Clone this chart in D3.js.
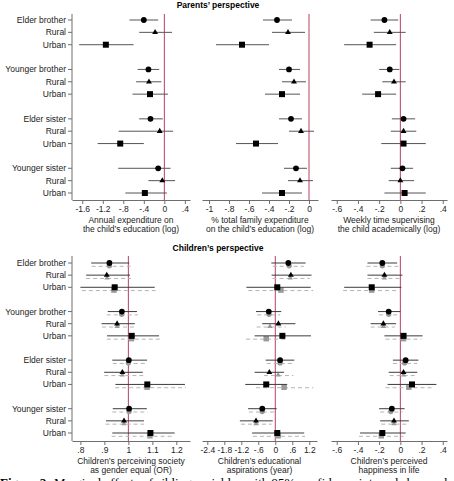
<!DOCTYPE html>
<html>
<head>
<meta charset="utf-8">
<script src="https://cdn.jsdelivr.net/npm/d3@7"></script>
<style>
  body { margin: 0; background: #fff; }
  svg { display: block; font-family: "Liberation Sans", Arial, sans-serif; }
</style>
</head>
<body>
<svg id="chart" width="454" height="481"></svg>
<script>
// rows (same order in every panel)
const rowLabels = ["Elder brother", "Rural", "Urban", "Younger brother", "Rural", "Urban",
  "Elder sister", "Rural", "Urban", "Younger sister", "Rural", "Urban"];
const rowSlots = [0, 1, 2, 4, 5, 6, 8, 9, 10, 12, 13, 14];
const rowShapes = ["circle", "triangle", "square", "circle", "triangle", "square",
  "circle", "triangle", "square", "circle", "triangle", "square"];

// Parents' perspective
const eduExpEst = [-0.40, -0.18, -1.14, -0.31, -0.30, -0.28, -0.27, -0.09, -0.86, -0.12, -0.04, -0.38];
const eduExpLo = [-0.68, -0.49, -1.66, -0.52, -0.55, -0.62, -0.49, -0.89, -1.30, -0.90, -0.31, -0.76];
const eduExpHi = [-0.12, 0.15, -0.60, -0.10, -0.06, 0.07, -0.03, 0.17, -0.40, 0.12, 0.21, 0.05];

const shareEst = [-0.32, -0.21, -0.67, -0.20, -0.15, -0.27, -0.18, -0.08, -0.53, -0.13, -0.09, -0.27];
const shareLo = [-0.46, -0.37, -0.93, -0.30, -0.27, -0.44, -0.30, -0.20, -0.73, -0.25, -0.21, -0.47];
const shareHi = [-0.17, -0.04, -0.40, -0.09, -0.03, -0.09, -0.07, 0.05, -0.31, -0.02, 0.04, -0.07];

const superEst = [-0.15, -0.10, -0.29, -0.10, -0.06, -0.21, 0.03, 0.03, 0.03, 0.02, 0.00, 0.04];
const superLo = [-0.28, -0.25, -0.53, -0.20, -0.17, -0.36, -0.08, -0.09, -0.18, -0.09, -0.11, -0.15];
const superHi = [-0.02, 0.05, -0.04, -0.01, 0.05, -0.04, 0.14, 0.15, 0.24, 0.12, 0.13, 0.24];

// Children's perspective (black = first model, grey = second model)
const equalEst = [0.921, 0.910, 0.943, 0.973, 0.953, 1.014, 1.002, 0.975, 1.079, 1.003, 0.982, 1.092];
const equalLo = [0.845, 0.824, 0.800, 0.914, 0.888, 0.911, 0.933, 0.899, 0.946, 0.935, 0.907, 0.933];
const equalHi = [1.004, 1.007, 1.110, 1.036, 1.027, 1.128, 1.078, 1.060, 1.236, 1.077, 1.065, 1.193];
const equalEst2 = [0.921, 0.911, 0.940, 0.972, 0.953, 1.013, 1.000, 0.975, 1.078, 1.003, 0.982, 1.090];
const equalLo2 = [0.847, 0.824, 0.806, 0.910, 0.890, 0.910, 0.935, 0.900, 0.945, 0.933, 0.905, 0.930];
const equalHi2 = [1.011, 1.011, 1.114, 1.040, 1.030, 1.132, 1.075, 1.062, 1.240, 1.080, 1.065, 1.190];

const aspEst = [0.46, 0.55, 0.07, -0.23, 0.11, 0.25, 0.17, -0.21, -0.32, -0.46, -0.68, 0.07];
const aspLo = [-0.14, -0.13, -1.02, -0.68, -0.46, -0.73, -0.34, -0.73, -1.06, -0.96, -1.25, -0.82];
const aspHi = [1.07, 1.28, 1.25, 0.21, 0.71, 1.26, 0.67, 0.31, 0.42, 0.05, -0.09, 1.02];
const aspEst2 = [0.49, 0.53, 0.20, -0.22, -0.19, -0.32, 0.17, 0.10, 0.31, -0.46, -0.68, 0.10];
const aspLo2 = [-0.09, -0.10, -0.95, -0.64, -0.66, -1.03, -0.30, -0.40, -0.68, -0.93, -1.21, -0.79];
const aspHi2 = [1.01, 1.22, 1.34, 0.17, 0.37, 0.42, 0.66, 0.64, 1.34, 0.01, -0.13, 1.05];

const happyEst = [-0.17, -0.15, -0.27, -0.11, -0.16, 0.03, 0.05, 0.03, 0.11, -0.08, -0.06, -0.17];
const happyLo = [-0.31, -0.31, -0.53, -0.21, -0.28, -0.15, -0.07, -0.11, -0.12, -0.20, -0.19, -0.38];
const happyHi = [-0.03, 0.02, 0.01, 0.00, -0.04, 0.21, 0.17, 0.16, 0.34, 0.04, 0.08, 0.05];
const happyEst2 = [-0.17, -0.15, -0.27, -0.11, -0.16, 0.03, 0.04, 0.03, 0.08, -0.09, -0.06, -0.18];
const happyLo2 = [-0.32, -0.31, -0.54, -0.20, -0.28, -0.14, -0.07, -0.10, -0.14, -0.19, -0.18, -0.39];
const happyHi2 = [-0.01, 0.00, -0.02, -0.01, -0.05, 0.20, 0.16, 0.15, 0.30, 0.02, 0.07, 0.03];

// axis ticks
const eduExpTicks = [-1.6, -1.2, -0.8, -0.4, 0, 0.4];
const shareTicks = [-1, -0.8, -0.6, -0.4, -0.2, 0];
const superTicks = [-0.6, -0.4, -0.2, 0, 0.2, 0.4];
const equalTicks = [0.8, 0.9, 1, 1.1, 1.2];
const aspTicks = [-2.4, -1.8, -1.2, -0.6, 0, 0.6, 1.2];
const happyTicks = [-0.6, -0.4, -0.2, 0, 0.2, 0.4];

const svg = d3.select("#chart");
const fs = 8.5;
const red = "#b8405f";
const axisCol = "#6e6e6e";

function fmt(v) {
  const s = String(+v.toFixed(2));
  return s.replace(/^(-?)0\./, "$1.");
}

function symbolFor(shape, small) {
  if (shape === "circle") return d3.symbol(d3.symbolCircle, small ? 22 : 26);
  if (shape === "square") return d3.symbol(d3.symbolSquare, small ? 30 : 36);
  return d3.symbol(d3.symbolTriangle, small ? 12 : 15);
}

function drawSection(cfg) {
  const y = d3.scaleLinear().domain([0, 14]).range([cfg.rowTop, cfg.rowBottom]);

  svg.append("text")
    .attr("x", 218).attr("y", cfg.titleY)
    .attr("text-anchor", "middle")
    .style("font-size", fs + "px").style("font-weight", "bold")
    .text(cfg.title);

  // y axis on the first panel
  const yAxisX = cfg.panels[0].range[0];
  svg.append("line")
    .attr("x1", yAxisX).attr("x2", yAxisX)
    .attr("y1", cfg.axisTop).attr("y2", cfg.axisY)
    .attr("stroke", axisCol).attr("stroke-width", 1);
  rowLabels.forEach((lab, i) => {
    const yy = y(rowSlots[i]);
    svg.append("line")
      .attr("x1", yAxisX - 4).attr("x2", yAxisX)
      .attr("y1", yy).attr("y2", yy)
      .attr("stroke", axisCol);
    svg.append("text")
      .attr("x", yAxisX - 6).attr("y", yy)
      .attr("dy", "0.35em")
      .attr("text-anchor", "end")
      .style("font-size", fs + "px")
      .attr("fill", "#222")
      .text(lab);
  });

  cfg.panels.forEach(p => {
    const x = d3.scaleLinear().domain(p.domain).range(p.range);

    const gx = svg.append("g")
      .attr("transform", "translate(0," + cfg.axisY + ")")
      .call(d3.axisBottom(x).tickValues(p.ticks).tickFormat(fmt).tickSize(4).tickSizeOuter(0).tickPadding(2));
    gx.select(".domain").attr("stroke", axisCol);
    gx.selectAll(".tick line").attr("stroke", axisCol);
    gx.selectAll(".tick text")
      .attr("fill", "#222")
      .style("font-size", fs + "px")
      .style("font-family", "'Liberation Sans', Arial, sans-serif");

    p.title.forEach((t, k) => {
      svg.append("text")
        .attr("x", (p.range[0] + p.range[1]) / 2)
        .attr("y", cfg.axisY + 23 + k * 8.5)
        .attr("text-anchor", "middle")
        .style("font-size", fs + "px")
        .attr("fill", "#222")
        .text(t);
    });

    // reference line
    svg.append("line")
      .attr("x1", x(p.ref)).attr("x2", x(p.ref))
      .attr("y1", cfg.axisTop).attr("y2", cfg.axisY)
      .attr("stroke", red).attr("stroke-width", 1);

    // second (grey, dashed) model
    if (p.est2) {
      rowSlots.forEach((s, i) => {
        const yy = y(s) + 3.3;
        svg.append("line")
          .attr("x1", x(p.lo2[i])).attr("x2", x(p.hi2[i]))
          .attr("y1", yy).attr("y2", yy)
          .attr("stroke", "#b4b4b4").attr("stroke-width", 1)
          .attr("stroke-dasharray", "4,3");
        svg.append("path")
          .attr("d", symbolFor(rowShapes[i], true)())
          .attr("transform", "translate(" + x(p.est2[i]) + "," + (y(s) + 2.8) + ")")
          .attr("fill", "#9a9a9a");
      });
    }

    // main model
    rowSlots.forEach((s, i) => {
      const yy = y(s);
      svg.append("line")
        .attr("x1", x(p.lo[i])).attr("x2", x(p.hi[i]))
        .attr("y1", yy).attr("y2", yy)
        .attr("stroke", p.est2 ? "#3c3c3c" : "#555").attr("stroke-width", 1);
      svg.append("path")
        .attr("d", symbolFor(rowShapes[i], false)())
        .attr("transform", "translate(" + x(p.est[i]) + "," + yy + ")")
        .attr("fill", "#000");
    });
  });
}

drawSection({
  title: "Parents\u2019 perspective",
  titleY: 8,
  rowTop: 20, rowBottom: 193,
  axisTop: 14, axisY: 200,
  panels: [
    { domain: [-1.8, 0.5], range: [72, 190], ticks: eduExpTicks, ref: 0,
      est: eduExpEst, lo: eduExpLo, hi: eduExpHi,
      title: ["Annual expenditure on", "the child\u2019s education (log)"] },
    { domain: [-1.07, 0.09], range: [202, 318], ticks: shareTicks, ref: 0,
      est: shareEst, lo: shareLo, hi: shareHi,
      title: ["% total family expenditure", "on the child\u2019s education (log)"] },
    { domain: [-0.654, 0.44], range: [331, 447], ticks: superTicks, ref: 0,
      est: superEst, lo: superLo, hi: superHi,
      title: ["Weekly time supervising", "the child academically (log)"] }
  ]
});

drawSection({
  title: "Children\u2019s perspective",
  titleY: 251,
  rowTop: 263, rowBottom: 433,
  axisTop: 256, axisY: 441,
  panels: [
    { domain: [0.765, 1.257], range: [72, 190], ticks: equalTicks, ref: 1,
      est: equalEst, lo: equalLo, hi: equalHi, est2: equalEst2, lo2: equalLo2, hi2: equalHi2,
      title: ["Children\u2019s perceiving society", "as gender equal (OR)"] },
    { domain: [-2.587, 1.472], range: [202, 317], ticks: aspTicks, ref: 0,
      est: aspEst, lo: aspLo, hi: aspHi, est2: aspEst2, lo2: aspLo2, hi2: aspHi2,
      title: ["Children\u2019s educational", "aspirations (year)"] },
    { domain: [-0.654, 0.44], range: [331, 447], ticks: happyTicks, ref: 0,
      est: happyEst, lo: happyLo, hi: happyHi, est2: happyEst2, lo2: happyLo2, hi2: happyHi2,
      title: ["Children\u2019s perceived", "happiness in life"] }
  ]
});

// figure caption (cut off at the bottom edge, as in the source page)
const cap = svg.append("text")
  .attr("x", 0).attr("y", 486.5)
  .style("font-family", "'Liberation Serif', 'Times New Roman', serif")
  .style("font-size", "13px")
  .attr("fill", "#000");
cap.append("tspan").style("font-weight", "bold").text("Figure 2:");
cap.append("tspan").text(" Marginal effects of sibling variables with 95% confidence intervals by rural and urban");
</script>
</body>
</html>
